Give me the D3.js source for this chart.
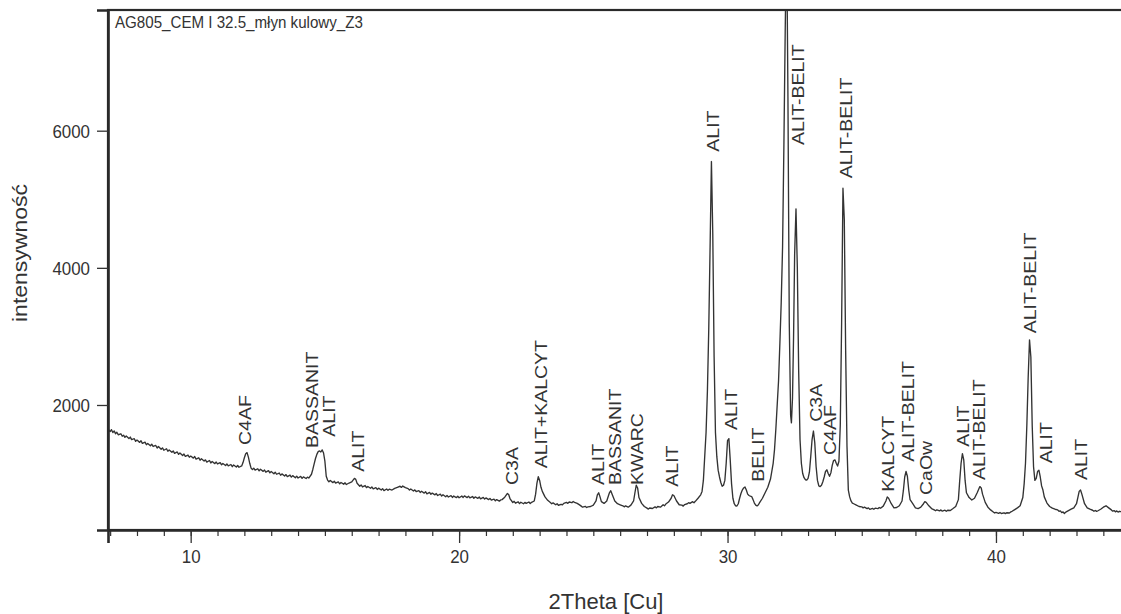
<!DOCTYPE html>
<html><head><meta charset="utf-8">
<script src="https://cdn.jsdelivr.net/npm/d3@7"></script>
<style>
body{margin:0;background:#fff}
svg{display:block}
text{font-family:"Liberation Sans",Arial,sans-serif;fill:#333}
</style>
</head><body>
<svg id="chart" width="1121" height="614"></svg>
<script>
// ---------- data ----------
const chartTitle = "AG805_CEM I 32.5_młyn kulowy_Z3";
const xTitle = "2Theta [Cu]";
const yTitle = "intensywność";
const xMajorTicks = [10, 20, 30, 40];
const xMinorTicks = [7,8,9,10,11,12,13,14,15,16,17,18,19,20,21,22,23,24,25,26,27,28,29,30,31,32,33,34,35,36,37,38,39,40,41,42,43,44];
const yTicks = [2000, 4000, 6000];
const xDomain = [6.92, 45];
const yDomain = [177, 7760];

// diffraction pattern: [2theta, intensity]
const pattern = [
[6.92,1650],[6.96,1628],[7.0,1612],[7.05,1640],[7.1,1598],[7.15,1622],[7.2,1580],[7.25,1602],[7.3,1566],[7.4,1580],[7.45,1545],
[7.5,1560],[7.55,1528],[7.6,1548],[7.7,1510],[7.75,1532],[7.8,1495],[7.9,1508],[7.95,1470],[8.0,1488],[8.1,1455],[8.15,1478],
[8.2,1440],[8.3,1458],[8.35,1420],[8.4,1440],[8.5,1405],[8.55,1428],[8.6,1395],[8.7,1410],[8.75,1372],[8.8,1395],[8.9,1355],
[8.95,1375],[9.0,1340],[9.1,1362],[9.15,1325],[9.2,1345],[9.3,1310],[9.35,1330],[9.4,1295],[9.5,1315],[9.55,1280],[9.6,1300],
[9.7,1262],[9.75,1285],[9.8,1250],[9.9,1270],[9.95,1238],[10.0,1255],[10.1,1225],[10.15,1248],[10.2,1210],[10.3,1230],[10.35,1195],
[10.4,1215],[10.5,1182],[10.55,1200],[10.6,1168],[10.7,1190],[10.75,1155],[10.8,1175],[10.9,1145],[10.95,1168],[11.0,1140],
[11.1,1160],[11.15,1128],[11.2,1148],[11.3,1118],[11.35,1140],[11.4,1112],[11.5,1132],[11.55,1100],[11.6,1125],[11.7,1095],
[11.75,1118],[11.8,1092],[11.9,1112],[11.95,1160],[12.0,1230],[12.05,1290],[12.1,1305],[12.15,1240],[12.2,1150],[12.25,1080],
[12.3,1058],[12.35,1078],[12.4,1050],[12.5,1070],[12.55,1040],[12.6,1062],[12.7,1032],[12.75,1052],[12.8,1020],[12.9,1042],
[12.95,1010],[13.0,1030],[13.1,998],[13.15,1020],[13.2,990],[13.3,1008],[13.35,975],[13.4,995],[13.5,965],[13.55,985],
[13.6,955],[13.7,978],[13.75,948],[13.8,970],[13.9,940],[13.95,962],[14.0,935],[14.1,958],[14.15,930],[14.2,952],
[14.3,928],[14.35,948],[14.4,935],[14.5,990],[14.55,1060],[14.6,1140],[14.65,1220],[14.7,1280],[14.75,1320],[14.8,1330],
[14.85,1315],[14.9,1345],[14.95,1300],[15.0,1180],[15.05,960],[15.1,905],[15.15,880],[15.2,900],[15.3,868],[15.35,888],
[15.4,860],[15.5,878],[15.55,850],[15.6,870],[15.7,845],[15.75,865],[15.8,840],[15.9,862],[16.0,878],[16.05,905],
[16.1,930],[16.15,915],[16.2,858],[16.3,815],[16.35,835],[16.4,805],[16.5,825],[16.55,795],[16.6,812],[16.7,785],
[16.75,805],[16.8,778],[16.9,795],[16.95,768],[17.0,788],[17.1,760],[17.15,780],[17.2,752],[17.3,775],[17.35,755],
[17.4,772],[17.5,760],[17.6,785],[17.7,800],[17.8,815],[17.85,798],[17.9,818],[18.0,795],[18.1,780],[18.15,760],
[18.2,775],[18.3,745],[18.35,762],[18.4,738],[18.5,752],[18.55,725],[18.6,742],[18.7,715],[18.75,735],[18.8,705],
[18.9,725],[18.95,698],[19.0,715],[19.1,690],[19.15,708],[19.2,680],[19.3,700],[19.35,672],[19.4,690],[19.5,662],
[19.55,682],[19.6,658],[19.7,678],[19.75,652],[19.8,672],[19.9,650],[19.95,670],[20.0,648],[20.1,672],[20.15,652],
[20.2,675],[20.3,650],[20.35,670],[20.4,645],[20.5,665],[20.55,640],[20.6,660],[20.7,638],[20.75,658],[20.8,632],
[20.9,652],[20.95,628],[21.0,645],[21.1,620],[21.15,638],[21.2,612],[21.3,628],[21.35,602],[21.4,620],[21.5,598],
[21.55,615],[21.6,620],[21.7,655],[21.8,710],[21.85,690],[21.9,630],[22.0,578],[22.05,595],[22.1,568],[22.2,588],
[22.25,562],[22.3,582],[22.4,560],[22.45,580],[22.5,565],[22.6,585],[22.65,562],[22.7,580],[22.8,600],[22.85,700],
[22.9,860],[22.95,955],[23.0,900],[23.05,800],[23.1,740],[23.2,660],[23.3,610],[23.4,578],[23.45,560],[23.5,572],
[23.6,545],[23.65,560],[23.7,538],[23.8,552],[23.85,545],[23.9,565],[24.0,580],[24.05,565],[24.1,585],[24.2,575],
[24.25,592],[24.3,580],[24.4,565],[24.5,540],[24.55,525],[24.6,510],[24.7,522],[24.75,505],[24.8,515],[24.9,520],
[25.0,540],[25.1,600],[25.15,690],[25.2,720],[25.25,660],[25.3,590],[25.4,565],[25.5,600],[25.6,720],[25.65,750],
[25.7,700],[25.8,600],[25.9,560],[26.0,545],[26.1,530],[26.15,515],[26.2,528],[26.3,510],[26.4,540],[26.5,600],
[26.55,720],[26.6,830],[26.65,790],[26.7,650],[26.8,565],[26.9,520],[27.0,495],[27.05,482],[27.1,498],[27.2,490],
[27.3,515],[27.35,500],[27.4,520],[27.5,510],[27.6,545],[27.65,530],[27.7,555],[27.8,585],[27.9,640],[27.95,690],
[28.0,680],[28.1,600],[28.2,545],[28.3,540],[28.35,525],[28.4,548],[28.5,560],[28.55,575],[28.6,565],[28.7,590],
[28.75,575],[28.8,595],[28.9,640],[29.0,690],[29.05,740],[29.1,900],[29.15,1250],[29.2,1600],[29.25,2200],[29.3,3100],
[29.35,4300],[29.4,5550],[29.45,4500],[29.5,2700],[29.55,1600],[29.6,1250],[29.65,1050],[29.7,950],[29.75,870],[29.8,815],
[29.85,830],[29.9,900],[29.95,1150],[30.0,1480],[30.05,1510],[30.1,1200],[30.15,850],[30.2,640],[30.25,560],[30.3,530],
[30.35,527],[30.4,560],[30.45,640],[30.5,710],[30.55,760],[30.6,790],[30.65,805],[30.7,760],[30.75,700],[30.8,680],
[30.85,670],[30.9,665],[30.95,620],[31.0,570],[31.05,540],[31.1,528],[31.15,545],[31.2,580],[31.3,640],[31.4,720],
[31.5,800],[31.6,920],[31.7,1150],[31.75,1350],[31.8,1650],[31.85,2000],[31.9,2350],[31.95,2900],[32.0,3500],[32.05,4300],
[32.1,5800],[32.15,7500],[32.2,9000],[32.25,6500],[32.3,3200],[32.35,1850],[32.38,1740],[32.42,2100],[32.46,3000],[32.5,4200],
[32.55,4860],[32.6,4000],[32.65,2500],[32.7,1500],[32.75,1150],[32.8,1000],[32.85,940],[32.9,910],[32.95,905],[33.0,930],
[33.05,1020],[33.1,1250],[33.15,1500],[33.2,1620],[33.25,1450],[33.3,1100],[33.35,900],[33.4,820],[33.45,810],[33.5,830],
[33.55,880],[33.6,950],[33.65,1030],[33.7,1055],[33.75,1000],[33.8,960],[33.85,1010],[33.9,1120],[33.95,1190],[34.0,1200],
[34.05,1150],[34.1,1110],[34.15,1180],[34.2,1700],[34.25,3200],[34.3,5160],[34.35,4700],[34.4,2800],[34.45,1400],[34.5,760],
[34.55,660],[34.6,600],[34.65,570],[34.7,560],[34.8,540],[34.9,520],[35.0,515],[35.05,500],[35.1,510],[35.2,488],
[35.25,500],[35.3,478],[35.4,492],[35.45,480],[35.5,495],[35.6,488],[35.65,505],[35.7,495],[35.8,525],[35.9,600],
[35.95,660],[36.0,640],[36.1,560],[36.2,500],[36.3,505],[36.4,530],[36.5,600],[36.55,750],[36.6,950],[36.65,1030],
[36.7,960],[36.75,760],[36.8,620],[36.9,560],[37.0,500],[37.1,490],[37.2,510],[37.3,560],[37.35,590],[37.4,580],
[37.5,530],[37.6,490],[37.7,470],[37.75,458],[37.8,472],[37.9,455],[37.95,470],[38.0,452],[38.1,466],[38.15,450],
[38.2,465],[38.3,462],[38.4,490],[38.5,520],[38.6,620],[38.65,900],[38.7,1150],[38.75,1290],[38.8,1200],[38.85,900],
[38.9,720],[39.0,650],[39.1,615],[39.2,640],[39.3,720],[39.4,810],[39.45,790],[39.5,700],[39.6,580],[39.7,510],
[39.8,470],[39.9,440],[39.95,425],[40.0,435],[40.1,420],[40.15,432],[40.2,418],[40.3,428],[40.35,415],[40.4,428],
[40.5,425],[40.55,440],[40.6,450],[40.7,475],[40.8,500],[40.9,530],[41.0,650],[41.05,850],[41.1,1150],[41.15,1700],
[41.2,2400],[41.25,2950],[41.3,2700],[41.35,1700],[41.4,1100],[41.45,900],[41.5,930],[41.55,1030],[41.6,1050],[41.65,950],
[41.7,820],[41.75,760],[41.8,660],[41.9,570],[42.0,520],[42.1,495],[42.2,480],[42.3,470],[42.35,450],[42.4,455],
[42.45,430],[42.5,440],[42.55,418],[42.6,438],[42.7,460],[42.8,480],[42.9,500],[43.0,560],[43.05,650],[43.1,740],
[43.15,760],[43.2,700],[43.3,560],[43.4,500],[43.5,480],[43.6,465],[43.65,450],[43.7,462],[43.75,448],[43.8,458],
[43.9,480],[44.0,510],[44.1,530],[44.2,500],[44.3,470],[44.35,452],[44.4,460],[44.45,442],[44.5,455],[44.55,438],
[44.6,450],[44.7,440],[44.8,445],[45.0,435]
];

// peak labels: [2theta, intensity at start of text, text]
const peakLabels = [
[12.02,1417,"C4AF"],
[14.52,1373,"BASSANIT"],
[15.15,1538,"ALIT"],
[16.21,1027,"ALIT"],
[21.96,833,"C3A"],
[23.05,1077,"ALIT+KALCYT"],
[25.16,833,"ALIT"],
[25.81,833,"BASSANIT"],
[26.62,833,"KWARC"],
[27.92,809,"ALIT"],
[29.44,5694,"ALIT"],
[30.11,1635,"ALIT"],
[31.13,882,"BELIT"],
[32.62,5791,"ALIT-BELIT"],
[33.29,1756,"C3A"],
[33.81,1271,"C4AF"],
[34.41,5306,"ALIT-BELIT"],
[35.98,736,"KALCYT"],
[36.70,1173,"ALIT-BELIT"],
[37.39,688,"CaOw"],
[38.75,1392,"ALIT"],
[39.37,906,"ALIT-BELIT"],
[41.27,3046,"ALIT-BELIT"],
[41.86,1150,"ALIT"],
[43.17,906,"ALIT"]
];

// ---------- layout ----------
const plot = {left:108, top:10, bottom:530};
const pxPerDeg = 26.843;
plot.right = plot.left + (xDomain[1]-xDomain[0])*pxPerDeg;
const squeeze = 0.89;

const svg = d3.select("#chart");
const x = d3.scaleLinear().domain(xDomain).range([plot.left, plot.right]);
const y = d3.scaleLinear().domain(yDomain).range([plot.bottom, plot.top]);

svg.append("defs").append("clipPath").attr("id","clip")
  .append("rect").attr("x",plot.left).attr("y",plot.top)
  .attr("width",plot.right-plot.left).attr("height",plot.bottom-plot.top);

// curve
const line = d3.line().x(d=>x(d[0])).y(d=>y(d[1]));
svg.append("path").datum(pattern)
  .attr("clip-path","url(#clip)")
  .attr("d",line).attr("fill","none")
  .attr("stroke","#333").attr("stroke-width",1.35).attr("stroke-linejoin","round");

// frame
svg.append("rect").attr("x",plot.left).attr("y",plot.top)
  .attr("width",plot.right-plot.left).attr("height",plot.bottom-plot.top)
  .attr("fill","none").attr("stroke","#2a2a2a").attr("stroke-width",2.2);

// x minor ticks
const gxMinor = svg.append("g").attr("transform",`translate(0,${plot.bottom})`)
  .call(d3.axisBottom(x).tickValues(xMinorTicks).tickSize(6).tickFormat(""));
gxMinor.select(".domain").remove();
gxMinor.selectAll("line").attr("stroke","#333").attr("stroke-width",1.2);

// x major ticks
const gx = svg.append("g").attr("transform",`translate(0,${plot.bottom})`)
  .call(d3.axisBottom(x).tickValues(xMajorTicks).tickSize(13).tickPadding(0).tickFormat(d3.format("d")));
gx.select(".domain").attr("stroke","#2a2a2a").attr("stroke-width",2.6);
gx.selectAll("line").attr("stroke","#333").attr("stroke-width",1.3);
gx.selectAll("text").each(function(){
  d3.select(this).attr("y",null).attr("dy",null)
   .attr("transform",`translate(0,33) scale(${squeeze},1)`)
   .attr("font-size",19).attr("fill","#444")
   .attr("font-family",'"Liberation Sans",Arial,sans-serif');
});

// y ticks
const gy = svg.append("g").attr("transform",`translate(${plot.left},0)`)
  .call(d3.axisLeft(y).tickValues(yTicks).tickSize(11).tickPadding(0).tickFormat(d3.format("d")));
gy.select(".domain").attr("stroke","#2a2a2a").attr("stroke-width",2.6);
gy.selectAll("line").attr("stroke","#333").attr("stroke-width",1.3);
gy.selectAll("text").each(function(){
  d3.select(this).attr("x",null).attr("dy",null)
   .attr("transform",`translate(-18,7) scale(${squeeze},1)`)
   .attr("font-size",19).attr("fill","#444")
   .attr("font-family",'"Liberation Sans",Arial,sans-serif');
});

// title inside plot
svg.append("text").attr("transform",`translate(115,28) scale(${squeeze},1)`)
  .attr("font-size",17).attr("fill","#333").text(chartTitle);

// axis titles
svg.append("text").attr("transform",`translate(606,609)`)
  .attr("text-anchor","middle").attr("font-size",22).attr("fill","#333").text(xTitle);
svg.append("text").attr("transform",`translate(27,253) scale(${squeeze},1) rotate(-90)`)
  .attr("text-anchor","middle").attr("font-size",23).attr("fill","#333").text(yTitle);

// peak labels
svg.append("g").selectAll("text").data(peakLabels).join("text")
  .attr("transform",d=>`translate(${x(d[0])},${y(d[1])}) scale(${squeeze},1) rotate(-90)`)
  .attr("dy","0.36em").attr("font-size",19.5).attr("fill","#333")
  .text(d=>d[2]);
</script>
</body></html>
